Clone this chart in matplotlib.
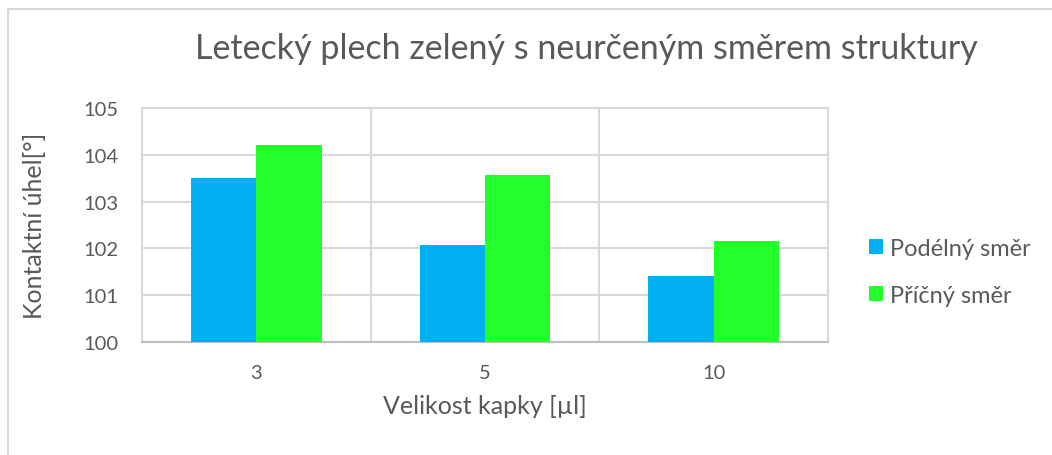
import numpy as np
import matplotlib.pyplot as plt
from matplotlib.patches import Rectangle

categories = ["3", "5", "10"]
podelny = [103.51, 102.07, 101.40]
pricny = [104.22, 103.57, 102.15]
series_names = ["Podélný směr", "Příčný směr"]

title = "Letecký plech zelený s neurčeným směrem struktury"
xlabel = "Velikost kapky [µl]"
ylabel = "Kontaktní úhel[°]"

text_col = "#595959"
plt.rcParams["font.family"] = ["Lato", "DejaVu Sans"]


def main():
    fig = plt.figure(figsize=(10.52, 4.56), dpi=100)
    # outer chart border (only top and left visible)
    fig.patches.append(Rectangle((8 / 1052, -0.1), 1.2, 1.1 - 10 / 456,
                                 transform=fig.transFigure, fill=False,
                                 edgecolor="#D9D9D9", linewidth=1.5))

    ax = fig.add_axes([142 / 1052, 113 / 456, 686 / 1052, 234 / 456])
    x = np.arange(len(categories))
    w = 0.285
    ax.bar(x - w / 2, podelny, w, color="#00B0F0", label=series_names[0], zorder=3)
    ax.bar(x + w / 2, pricny, w, color="#22FF2A", label=series_names[1], zorder=3)

    ax.set_xlim(-0.5, len(categories) - 0.5)
    ax.set_ylim(100, 105)
    ax.set_yticks(range(100, 106))
    ax.set_xticks(x)
    ax.set_xticklabels(categories)
    for b in np.arange(0.5, len(categories) - 0.5, 1):
        ax.axvline(b, color="#D9D9D9", linewidth=1.5, zorder=1)
    ax.grid(axis="y", color="#D9D9D9", linewidth=1.5, zorder=1)

    for s in ["top", "right", "left"]:
        ax.spines[s].set_color("#D9D9D9")
        ax.spines[s].set_linewidth(1.5)
    ax.spines["bottom"].set_color("#BFBFBF")
    ax.spines["bottom"].set_linewidth(1.5)
    ax.tick_params(length=0, labelsize=14.5, colors=text_col)
    ax.tick_params(axis="y", pad=17)
    ax.tick_params(axis="x", pad=16)

    ax.set_xlabel(xlabel, fontsize=18, color=text_col, labelpad=9)
    ax.set_ylabel(ylabel, fontsize=18, color=text_col, labelpad=27)
    fig.text(0.557, 0.893, title, fontsize=24.5, color=text_col, ha="center", va="center")

    ax.legend(loc="center left", bbox_to_anchor=(1.06, 0.30), frameon=False,
              fontsize=17, labelcolor=text_col, handlelength=0.6, handleheight=0.6,
              handletextpad=0.3, labelspacing=1.1, borderaxespad=0, borderpad=0)

    fig.savefig("out.png", dpi=100)


if __name__ == "__main__":
    main()
